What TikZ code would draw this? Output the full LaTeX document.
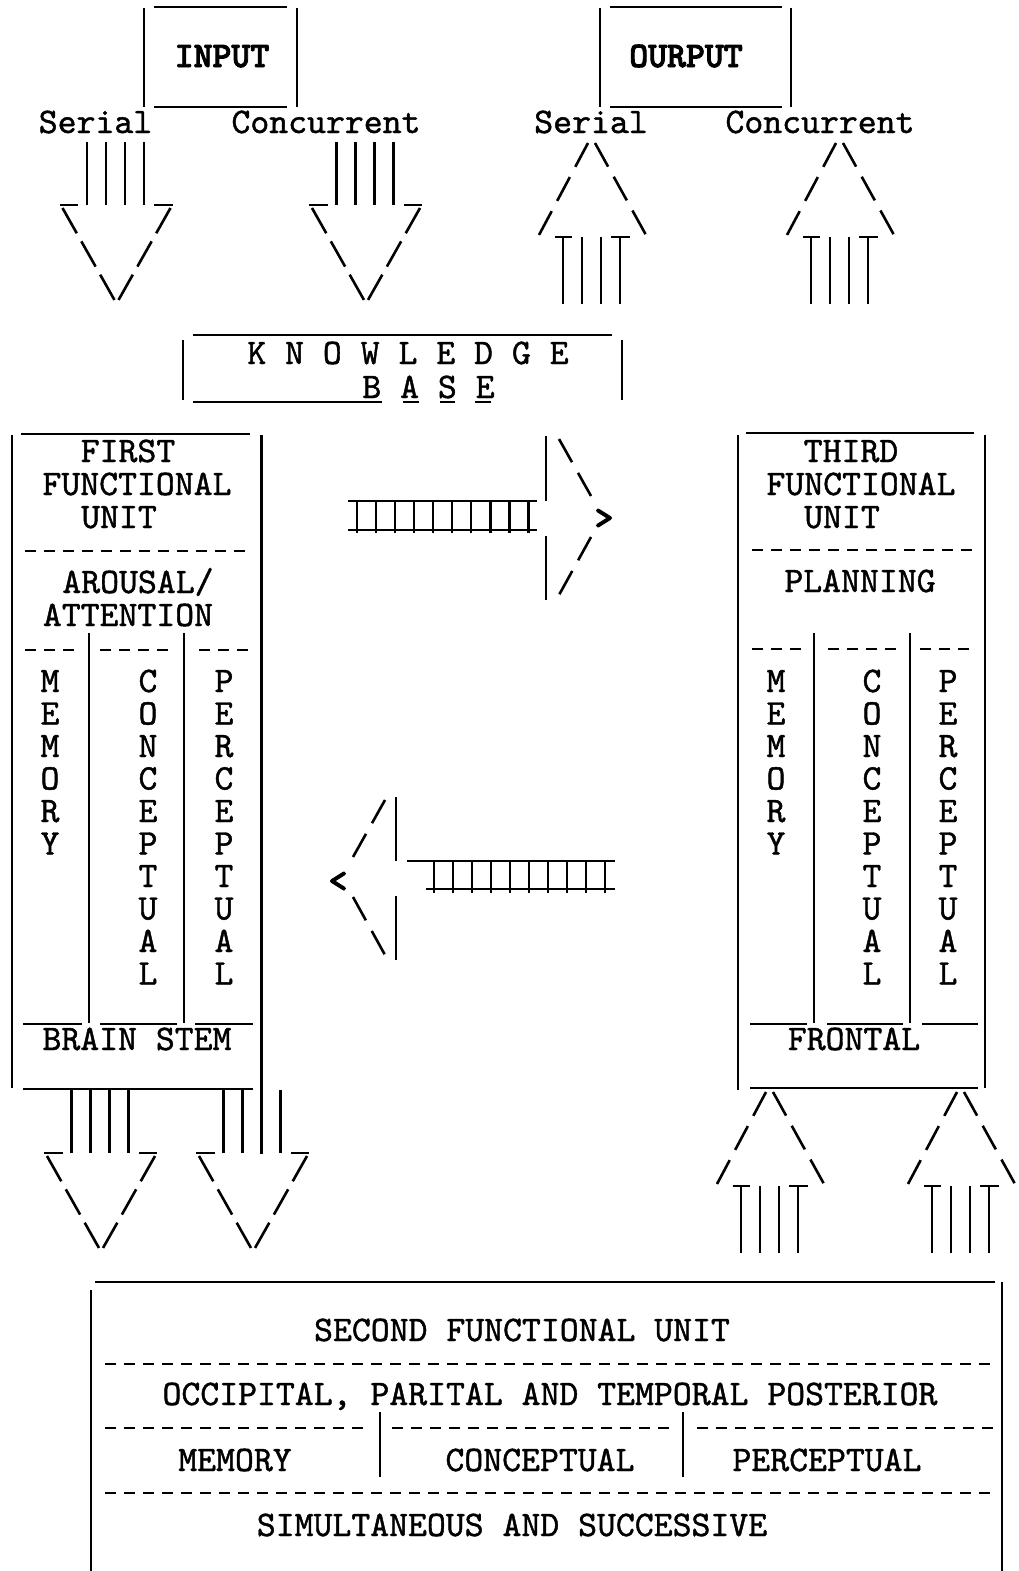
\documentclass[tikz,border=0pt]{standalone}
\usepackage{fontspec}
\newfontfamily\asciimono{lmmono10-regular}[Extension=.otf,FakeBold=1.2]
\newfontfamily\asciibold{lmmonolt10-bold}[Extension=.otf,FakeBold=2.5]
\begin{document}
\begin{tikzpicture}[x=1pt,y=-1pt,line width=2.6pt,
  txt/.style={font=\asciimono\fontsize{36}{40}\selectfont,inner sep=0pt,anchor=base},
  hd/.style={txt,font=\asciibold\fontsize{36}{40}\selectfont},
  asciidash/.style={dash pattern=on 11pt off 8pt},
  bigslash/.style={dash pattern=on 29pt off 9.3pt},
  upslash/.style={dash pattern=on 27pt off 11.6pt},
  headslash/.style={dash pattern=on 26.6pt off 12.2pt},
  downarr/.pic={
    \foreach \dx in {-28.5,-9.5,9.5,28.5} \draw (\dx,0) -- (\dx,63);
    \draw (-56,63) -- (-37.5,63) (38.5,63) -- (57,63);
    \draw[bigslash] (-53,66) -- (-1,158);
    \draw[bigslash] (55,66) -- (3,158);
  },
  uparr/.pic={
    \draw[upslash] (-3.5,0) -- (-52.5,92);
    \draw[upslash] (3.5,0) -- (54.5,92);
    \foreach \dx in {-28.5,-9.5,9.5,28.5} \draw (\dx,94) -- (\dx,161);
    \draw (-37,94) -- (-19.5,94) (19.5,94) -- (38,94);
  }]
\fill[white] (0,0) rectangle (1019,1571);
\useasboundingbox (0,0) rectangle (1019,1571);

% ---------- INPUT / OURPUT boxes ----------
\draw (144,8) -- (144,107) (297,8) -- (297,107)
      (154,7) -- (287,7) (154,107) -- (287,107);
\node[hd] (input) at (222,67) {INPUT};
\draw (600,8) -- (600,107) (791,8) -- (791,107)
      (610,7) -- (782,7) (610,107) -- (782,107);
\node[hd] (output) at (686,67) {OURPUT};

\node[txt] (inser) at (95.5,133) {Serial};
\node[txt] (inconc) at (326,133) {Concurrent};
\node[txt] (outser) at (591,133) {Serial};
\node[txt] (outconc) at (820,133) {Concurrent};

\pic (inSerArr) at (115.5,142) {downarr};
\pic (inConcArr) at (365,142) {downarr};
\pic (outSerArr) at (591.5,143) {uparr};
\pic (outConcArr) at (839.5,143) {uparr};

% ---------- knowledge base ----------
\draw (183,340) -- (183,400) (622,340) -- (622,400) (193,335) -- (612,335);
\draw (193,402) -- (382,402) (403,402) -- (419,402) (440,402) -- (455,402) (475,402) -- (491,402);
\node[txt] (know) at (408,364) {K N O W L E D G E};
\node[txt] (kbase) at (428.5,398) {B A S E};

% ---------- first functional unit ----------
\draw (12,435) -- (12,1088) (261.5,435) -- (261.5,1154) (21,434) -- (250,434);
\node[txt] (f1) at (128,462) {FIRST};
\node[txt] (f2) at (137,495) {FUNCTIONAL};
\node[txt] (f3) at (119,528) {UNIT};
\draw[asciidash] (25,551) -- (250,551);
\node[txt] (f4) at (138,593) {AROUSAL/};
\node[txt] (f5) at (128,626) {ATTENTION};
\draw[asciidash] (25,650) -- (78,650) (100,650) -- (175,650) (199,650) -- (250,650);
\draw (89,633) -- (89,1023) (184,633) -- (184,1023);
\foreach \c [count=\k from 0] in {M,E,M,O,R,Y}
  \node[txt] (fm\k) at (50,{692+32.5*\k}) {\c};
\foreach \c [count=\k from 0] in {C,O,N,C,E,P,T,U,A,L}
  \node[txt] (fc\k) at (148,{692+32.5*\k}) {\c};
\foreach \c [count=\k from 0] in {P,E,R,C,E,P,T,U,A,L}
  \node[txt] (fp\k) at (224,{692+32.5*\k}) {\c};
\draw (23,1024) -- (82,1024) (100,1024) -- (177,1024) (195,1024) -- (253,1024);
\node[txt] (bstem) at (137,1050) {BRAIN STEM};
\draw (23,1089) -- (253,1089);
\pic (f1ArrA) at (100,1090) {downarr};
\pic (f1ArrB) at (252,1090) {downarr};

% ---------- third functional unit ----------
\draw (738,435) -- (738,1090) (985,435) -- (985,1088) (746,433) -- (974,433);
\node[txt] (t1) at (851,462) {THIRD};
\node[txt] (t2) at (861,495) {FUNCTIONAL};
\node[txt] (t3) at (842,528) {UNIT};
\draw[asciidash] (752,550) -- (975,550);
\node[txt] (t4) at (860,592) {PLANNING};
\draw[asciidash] (752,649) -- (803,649) (828,649) -- (903,649) (920,649) -- (975,649);
\draw (814,633) -- (814,1023) (910,633) -- (910,1023);
\foreach \c [count=\k from 0] in {M,E,M,O,R,Y}
  \node[txt] (tm\k) at (776,{692+32.5*\k}) {\c};
\foreach \c [count=\k from 0] in {C,O,N,C,E,P,T,U,A,L}
  \node[txt] (tc\k) at (872,{692+32.5*\k}) {\c};
\foreach \c [count=\k from 0] in {P,E,R,C,E,P,T,U,A,L}
  \node[txt] (tp\k) at (948,{692+32.5*\k}) {\c};
\draw (750,1024) -- (807,1024) (827,1024) -- (903,1024) (922,1024) -- (978,1024);
\node[txt] (front) at (854,1050) {FRONTAL};
\draw (750,1088) -- (978,1088);
\pic (t3ArrA) at (769.5,1092) {uparr};
\pic (t3ArrB) at (960.5,1092) {uparr};

% ---------- ladder arrow: first -> third ----------
\draw (348,501) -- (537,501) (348,530) -- (537,530);
\foreach \i in {0,...,9} \draw ({357+19.03*\i},501) -- ++(0,32);
\draw (546,436) -- (546,501) (546,536) -- (546,600);
\draw[headslash] (559,439) -- (591,496);
\draw[headslash] (591,537) -- (559,595);
\node[hd,anchor=center] (gt) at (604,519) {>};

% ---------- ladder arrow: third -> first ----------
\draw (407,861) -- (615,861) (426,889) -- (615,889);
\foreach \i in {0,...,9} \draw ({434+19*\i},861) -- ++(0,32);
\draw (396,797) -- (396,861) (396,896) -- (396,960);
\draw[headslash] (385,800) -- (353,857);
\draw[headslash] (353,897) -- (385,955);
\node[hd,anchor=center] (lt) at (338,882) {<};

% ---------- second functional unit ----------
\draw (91,1290) -- (91,1571) (1002,1282) -- (1002,1571) (95,1282) -- (995,1282);
\node[txt] (s1) at (522,1341) {SECOND FUNCTIONAL UNIT};
\draw[asciidash] (105,1364) -- (997,1364);
\node[txt] (s2) at (550,1405) {OCCIPITAL, PARITAL AND TEMPORAL POSTERIOR};
\draw[asciidash] (105,1428) -- (370,1428) (392,1428) -- (675,1428) (697,1428) -- (997,1428);
\draw (380,1412) -- (380,1477) (683,1412) -- (683,1477);
\node[txt] (s3) at (235,1471) {MEMORY};
\node[txt] (s4) at (540,1471) {CONCEPTUAL};
\node[txt] (s5) at (827,1471) {PERCEPTUAL};
\draw[asciidash] (105,1493) -- (997,1493);
\node[txt] (s6) at (512,1536) {SIMULTANEOUS AND SUCCESSIVE};
\end{tikzpicture}
\end{document}
